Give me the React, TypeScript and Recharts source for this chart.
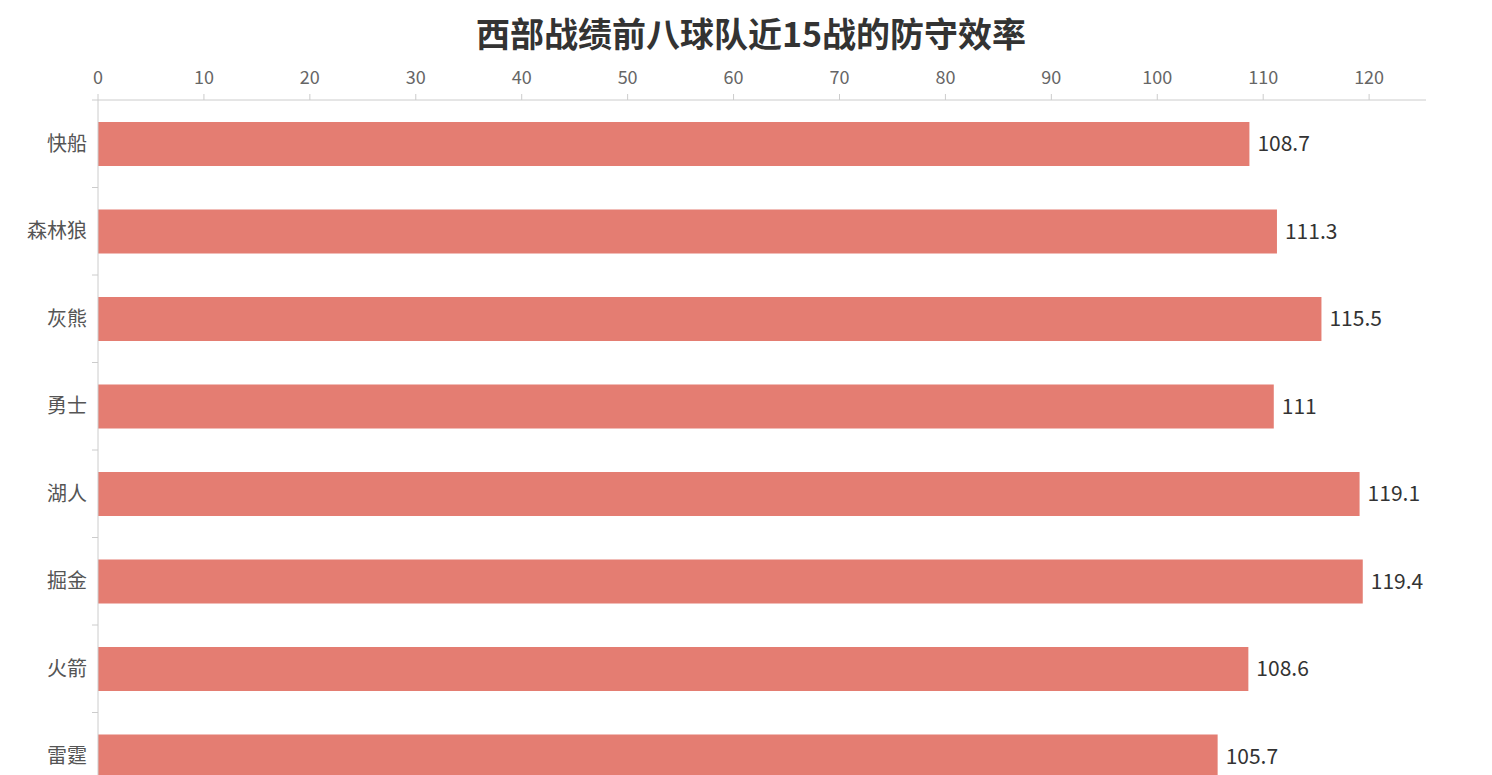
import React from "react";
import { BarChart, Bar, XAxis, YAxis, LabelList } from "recharts";

const teams = ["快船", "森林狼", "灰熊", "勇士", "湖人", "掘金", "火箭", "雷霆"];
const defRating = [108.7, 111.3, 115.5, 111, 119.1, 119.4, 108.6, 105.7];
const xTicks = [0, 10, 20, 30, 40, 50, 60, 70, 80, 90, 100, 110, 120];

const data = teams.map((team, i) => ({ team, value: defRating[i] }));

const FONT = '"Noto Sans CJK SC", "Microsoft YaHei", sans-serif';

// category label centred on the band, tick mark drawn on the band boundary
const TeamTick = (props: any) => {
  const { x, y, payload } = props;
  const band = 87.5;
  return (
    <g>
      <line x1={x + 2} x2={x + 8} y1={y - band / 2} y2={y - band / 2} stroke="#ccc" />
      <text x={x - 3} y={y} dy={7} textAnchor="end" fill="#555" fontSize={20} fontFamily={FONT}>
        {payload.value}
      </text>
    </g>
  );
};

export default function App() {
  return (
    <div
      style={{
        position: "absolute",
        left: 0,
        top: 0,
        width: 1492,
        height: 775,
        overflow: "hidden",
        background: "#fff",
        fontFamily: FONT,
      }}
    >
      <div
        style={{
          position: "absolute",
          left: 0,
          top: 10,
          width: 1502,
          textAlign: "center",
          fontSize: 34,
          fontWeight: 700,
          color: "#333",
          lineHeight: "46px",
        }}
      >
        西部战绩前八球队近15战的防守效率
      </div>
      <BarChart
        width={1492}
        height={810}
        data={data}
        layout="vertical"
        margin={{ top: 70, right: 66, bottom: 10, left: 0 }}
        barCategoryGap="25%"
      >
        <XAxis
          type="number"
          orientation="top"
          domain={[0, 125.37]}
          ticks={xTicks}
          height={30}
          axisLine={{ stroke: "#ccc" }}
          tickLine={{ stroke: "#ccc" }}
          tickSize={6}
          tickMargin={10}
          tick={{ fill: "#666", fontSize: 18, fontFamily: FONT }}
        />
        <YAxis
          type="category"
          dataKey="team"
          width={98}
          axisLine={{ stroke: "#ccc" }}
          tickLine={false}
          tick={<TeamTick />}
        />
        <Bar dataKey="value" fill="#e47d72" isAnimationActive={false}>
          <LabelList
            dataKey="value"
            position="right"
            offset={8}
            fill="#333"
            fontSize={21}
            fontFamily={FONT}
          />
        </Bar>
      </BarChart>
    </div>
  );
}
